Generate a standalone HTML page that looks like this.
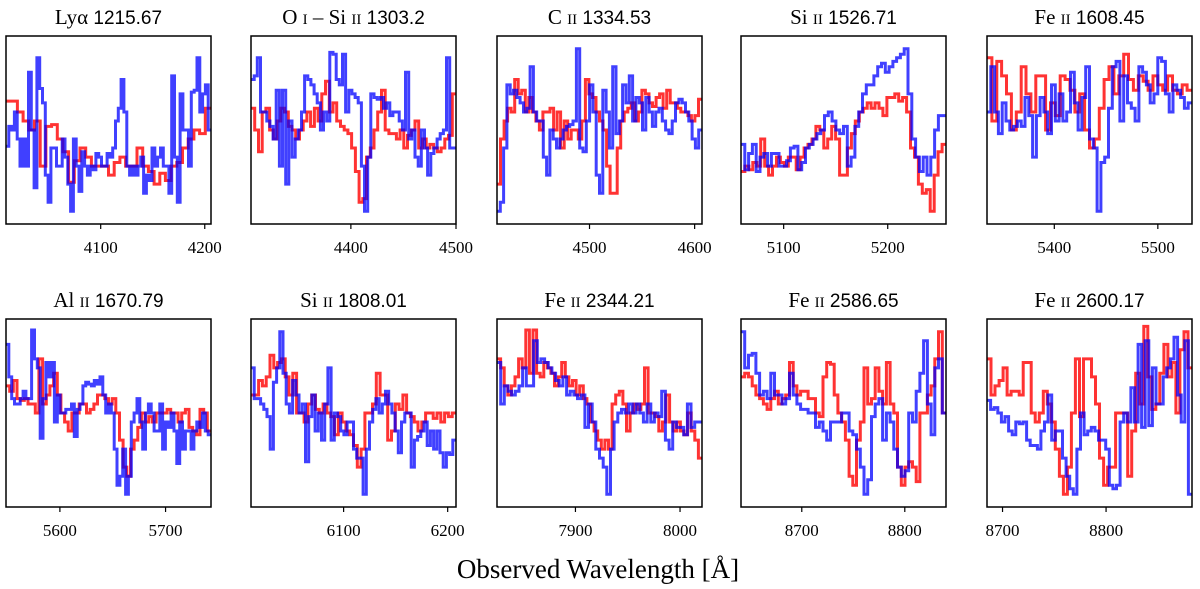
<!DOCTYPE html>
<html><head><meta charset="utf-8">
<style>
html,body{margin:0;padding:0;background:#fff;}
svg{display:block;}
.ttl{font-family:"Liberation Serif",serif;font-size:21px;}
.num{font-family:"Liberation Sans",sans-serif;font-size:19px;}
.tick{font-family:"Liberation Serif",serif;font-size:17px;}
</style></head>
<body>
<svg id="fig" width="1200" height="589" viewBox="0 0 1200 589" xmlns="http://www.w3.org/2000/svg">
<text x="598" y="578" text-anchor="middle" font-family="Liberation Serif, serif" font-size="27">Observed Wavelength [Å]</text>
</svg>
<script>
const panelTitles=[["Lyα","","1215.67"],["O ","i"," – Si ii 1303.2"],["C ","ii"," 1334.53"],["Si ","ii"," 1526.71"],["Fe ","ii"," 1608.45"],["Al ","ii"," 1670.79"],["Si ","ii"," 1808.01"],["Fe ","ii"," 2344.21"],["Fe ","ii"," 2586.65"],["Fe ","ii"," 2600.17"]];
const xMins=[4009,4305,4412,5059,5335,5549,6011,7825,8641,8685];
const xMaxs=[4206,4500,4607,5256,5533,5743,6208,8021,8840,8883];
const tickValues=[[4100,4200],[4400,4500],[4500,4600],[5100,5200],[5400,5500],[5600,5700],[6100,6200],[7900,8000],[8700,8800],[8700,8800]];
const redSeries=[
[.66,.66,.6,.55,.5,.55,.3,.52,.53,.45,.38,.21,.33,.4,.35,.3,.3,.3,.25,.32,.35,.3,.3,.4,.3,.27,.2,.26,.22,.3,.32,.4,.45,.5,.48,.62],
[.62,.5,.38,.6,.62,.5,.45,.55,.62,.6,.52,.5,.45,.5,.55,.6,.52,.62,.55,.7,.77,.6,.65,.55,.52,.5,.48,.4,.27,.1,.12,.35,.4,.5,.6,.72,.5,.48,.48,.45,.5,.4,.47,.5,.55,.4,.45,.4,.42,.4,.38,.4,.45,.47,.7],
[.2,.45,.55,.62,.6,.78,.7,.72,.6,.68,.6,.55,.5,.6,.6,.62,.5,.6,.4,.55,.45,.5,.5,.45,.55,.78,.7,.68,.6,.55,.5,.3,.15,.15,.4,.55,.6,.62,.65,.55,.6,.72,.7,.65,.63,.68,.7,.62,.72,.65,.65,.62,.6,.6,.58,.55,.58,.67],
[.27,.3,.28,.32,.3,.45,.3,.25,.3,.35,.32,.3,.35,.35,.28,.35,.4,.42,.45,.52,.5,.4,.45,.52,.45,.25,.25,.4,.48,.55,.6,.62,.65,.62,.65,.62,.58,.68,.68,.7,.66,.68,.6,.4,.35,.2,.15,.17,.05,.25,.38,.42],
[.9,.55,.88,.8,.7,.5,.6,.85,.7,.6,.8,.8,.5,.65,.58,.8,.78,.72,.6,.7,.5,.4,.45,.62,.78,.85,.7,.8,.92,.78,.72,.8,.77,.72,.8,.75,.72,.8,.72,.7,.75,.72],
[.65,.62,.68,.58,.57,.58,.55,.55,.5,.8,.55,.6,.65,.72,.6,.5,.45,.4,.5,.5,.55,.55,.5,.52,.55,.6,.6,.58,.55,.58,.5,.35,.2,.15,.3,.35,.42,.5,.45,.48,.45,.5,.5,.5,.52,.5,.5,.45,.5,.52,.42,.4,.38,.52,.5,.4],
[.6,.6,.68,.65,.7,.82,.75,.78,.8,.7,.6,.72,.5,.5,.45,.55,.6,.52,.5,.55,.5,.48,.38,.5,.45,.4,.38,.32,.2,.3,.5,.5,.55,.72,.6,.6,.35,.4,.55,.52,.6,.5,.48,.45,.4,.45,.5,.5,.47,.5,.45,.5,.48,.5],
[.8,.75,.65,.6,.65,.7,.8,.75,.96,.72,.96,.72,.7,.78,.75,.72,.65,.7,.78,.7,.65,.68,.6,.65,.58,.55,.45,.4,.35,.3,.35,.3,.55,.6,.62,.55,.4,.5,.55,.52,.55,.75,.5,.5,.48,.4,.45,.6,.45,.4,.45,.4,.38,.5,.4,.35,.25],
[.7,.72,.7,.65,.6,.58,.55,.52,.58,.62,.55,.58,.6,.78,.65,.6,.62,.62,.58,.58,.5,.48,.7,.78,.77,.6,.5,.45,.35,.15,.1,.35,.45,.75,.55,.58,.75,.62,.55,.78,.55,.5,.2,.1,.2,.23,.2,.12,.5,.5,.6,.65,.8,.95,.5],
[.8,.6,.65,.68,.75,.6,.62,.62,.6,.78,.78,.5,.45,.5,.62,.55,.45,.3,.15,.05,.2,.5,.8,.48,.8,.8,.7,.55,.25,.1,.2,.2,.5,.5,.5,.15,.4,.72,.55,.98,.7,.52,.55,.72,.88,.7,.78,.5,.85,.95,.75]
];
const blueSeries=[
[.41,.52,.5,.6,.45,.3,.45,.3,.82,.5,.18,.9,.73,.65,.25,.1,.4,.4,.3,.3,.45,.35,.2,.05,.45,.3,.16,.38,.3,.25,.3,.28,.37,.35,.3,.3,.37,.35,.4,.55,.62,.78,.6,.3,.25,.3,.25,.3,.35,.15,.25,.22,.4,.3,.35,.4,.3,.3,.15,.8,.35,.1,.7,.5,.5,.3,.71,.72,.9,.6,.7,.75,.5],
[.78,.8,.9,.6,.6,.55,.52,.45,.72,.3,.72,.2,.55,.35,.45,.5,.6,.8,.78,.75,.7,.65,.5,.6,.55,.93,.92,.78,.75,.92,.6,.72,.7,.68,.65,.3,.05,.35,.7,.68,.67,.68,.62,.65,.58,.6,.6,.55,.5,.82,.45,.5,.35,.3,.5,.4,.25,.37,.4,.45,.48,.5,.9,.4,.4],
[.05,.1,.4,.75,.7,.72,.68,.65,.6,.62,.85,.6,.55,.55,.35,.25,.5,.45,.4,.45,.5,.52,.53,.55,.95,.4,.38,.55,.75,.6,.25,.15,.72,.6,.4,.85,.48,.55,.75,.65,.8,.55,.68,.65,.5,.68,.6,.52,.6,.62,.55,.5,.48,.55,.65,.67,.65,.6,.55,.45,.4,.5],
[.42,.28,.37,.42,.27,.35,.37,.3,.37,.37,.3,.3,.33,.4,.41,.28,.32,.4,.42,.45,.48,.5,.58,.6,.55,.5,.48,.52,.3,.35,.52,.6,.7,.75,.75,.8,.85,.87,.82,.85,.88,.9,.92,.95,.7,.45,.35,.27,.35,.25,.35,.5,.58,.58],
[.6,.85,.6,.48,.65,.55,.5,.52,.55,.52,.68,.58,.35,.58,.68,.6,.48,.75,.55,.7,.55,.6,.82,.65,.5,.68,.85,.45,.4,.05,.32,.35,.62,.85,.88,.55,.8,.65,.62,.55,.85,.82,.75,.65,.7,.9,.88,.7,.6,.75,.72,.68,.62,.65],
[.88,.7,.58,.55,.55,.58,.62,.58,.58,.96,.8,.75,.36,.58,.78,.7,.78,.45,.6,.5,.5,.52,.52,.55,.37,.52,.55,.65,.67,.66,.65,.68,.66,.7,.6,.5,.55,.5,.3,.1,.15,.3,.05,.15,.45,.5,.58,.45,.3,.5,.55,.5,.4,.4,.55,.3,.45,.42,.5,.4,.22,.45,.3,.4,.4,.3,.4,.45,.42,.5,.4,.38],
[.75,.58,.58,.55,.52,.48,.3,.67,.75,.95,.72,.55,.5,.68,.6,.5,.55,.23,.48,.6,.4,.5,.35,.55,.75,.35,.5,.48,.4,.38,.45,.45,.3,.25,.25,.05,.3,.45,.52,.58,.5,.55,.62,.55,.5,.4,.28,.45,.5,.5,.2,.35,.37,.4,.45,.32,.4,.3,.4,.28,.2,.28,.27,.35],
[.78,.55,.65,.62,.6,.62,.65,.75,.65,.65,.9,.78,.8,.78,.75,.72,.68,.65,.7,.6,.62,.6,.58,.6,.42,.55,.45,.3,.25,.2,.05,.3,.45,.5,.52,.5,.55,.5,.55,.5,.45,.55,.45,.5,.48,.62,.35,.3,.45,.42,.42,.38,.55,.42,.45,.45],
[.95,.75,.82,.83,.72,.6,.62,.58,.72,.6,.6,.55,.58,.72,.6,.55,.52,.52,.5,.5,.42,.45,.4,.35,.45,.45,.45,.5,.5,.4,.38,.3,.2,.05,.13,.48,.55,.58,.35,.5,.45,.3,.2,.15,.18,.5,.45,.62,.72,.9,.55,.38,.75,.8,.5],
[.57,.52,.53,.5,.45,.48,.4,.38,.45,.44,.45,.35,.32,.32,.3,.4,.45,.6,.35,.4,.4,.25,.15,.08,.05,.3,.5,.38,.4,.42,.4,.35,.35,.3,.1,.08,.1,.45,.5,.45,.64,.45,.88,.42,.9,.43,.75,.55,.55,.7,.75,.8,.92,.6,.45,.9,.05]
];
const NS="http://www.w3.org/2000/svg";
const svg=document.getElementById('fig');
const lefts=[6,251,497,741,987], tops=[36,319], W=205, H=188;
function mk(t,a,p){const e=document.createElementNS(NS,t);for(const k in a)e.setAttribute(k,a[k]);(p||svg).appendChild(e);return e;}
for(let p=0;p<10;p++){
  const L=lefts[p%5], T=tops[Math.floor(p/5)];
  const xs=w=>L+(w-xMins[p])/(xMaxs[p]-xMins[p])*W;
  const ys=v=>T+H-(0.02+v*0.96)*H;
  const g=mk('g',{});
  
  
  const cid='clip'+p;
  const cp=mk('clipPath',{id:cid},g);mk('rect',{x:L,y:T,width:W,height:H},cp);
  [[redSeries[p],'rgba(255,0,0,0.8)','red-spectrum'],[blueSeries[p],'rgba(0,0,255,0.75)','blue-spectrum']].forEach(([vals,col,nm])=>{
    const n=vals.length, step=(xMaxs[p]-xMins[p])/n;
    let d='';
    vals.forEach((v,i)=>{const x0=xs(xMins[p]+i*step),x1=xs(xMins[p]+(i+1)*step),y=ys(v);d+=(i?'L':'M')+x0.toFixed(1)+','+y.toFixed(1)+'L'+x1.toFixed(1)+','+y.toFixed(1);});
    const path=mk('path',{d:d,fill:'none',stroke:col,'stroke-width':3,'stroke-linejoin':'miter','clip-path':'url(#'+cid+')'},g);
    
    
  });
  const fr=mk('rect',{x:L,y:T,width:W,height:H,fill:'none',stroke:'#000','stroke-width':1.5},g);
  
  
  tickValues[p].forEach(tv=>{
    const x=xs(tv);
    mk('line',{x1:x,x2:x,y1:T+H,y2:T+H+5,stroke:'#000','stroke-width':1.2},g);
    const t=mk('text',{x:x,y:T+H+29,'text-anchor':'middle',class:'tick'},g);
    t.textContent=tv;
    
    
  });
  const tt=panelTitles[p];
  const ti=mk('text',{x:L+W/2,y:T-12,'text-anchor':'middle',class:'ttl'},g);
  
  
  const a=mk('tspan',{},ti);a.textContent=tt[0];
  if(tt[1]){const b=mk('tspan',{'font-variant':'small-caps'},ti);b.textContent=tt[1];}
  if(p===1){const c=mk('tspan',{},ti);c.textContent=' – Si ';const d2=mk('tspan',{'font-variant':'small-caps'},ti);d2.textContent='ii';const e=mk('tspan',{class:'num'},ti);e.textContent=' 1303.2';}
  else{const c=mk('tspan',{class:'num'},ti);c.textContent=' '+tt[2].trim();}
}
</script>
</body></html>
